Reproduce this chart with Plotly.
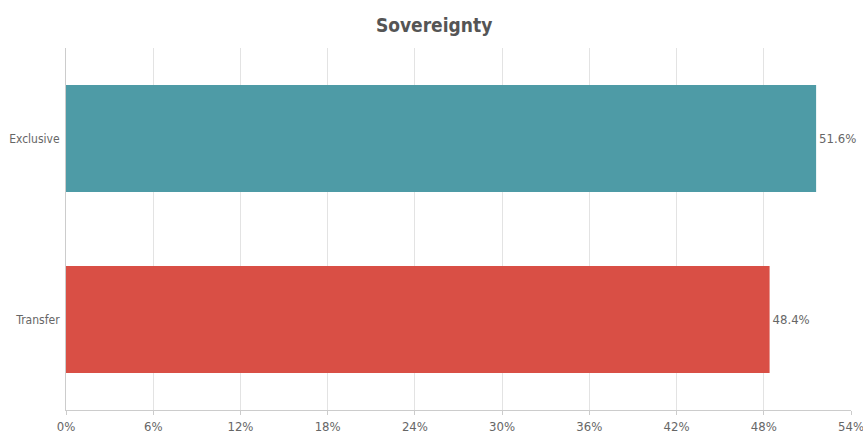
import plotly.graph_objects as go

categories = ["Exclusive", "Transfer"]
values = [51.6, 48.4]
colors = ["#4E9BA6", "#D94F45"]
tick_vals = [0, 6, 12, 18, 24, 30, 36, 42, 48, 54]
tick_text = [f"{v}%" for v in tick_vals]
labels = [f"{v}%" for v in values]

font_family = "DejaVu Sans Condensed, Liberation Sans Narrow, sans-serif"

fig = go.Figure(go.Bar(
    y=categories, x=values, orientation="h",
    marker=dict(color=colors, line=dict(width=0)),
    text=labels, textposition="outside", cliponaxis=False,
    textfont=dict(color="#666666", size=13, family=font_family),
))

fig.update_layout(
    width=863, height=436,
    margin=dict(l=66, r=12, t=48, b=26),
    paper_bgcolor="white", plot_bgcolor="white",
    bargap=0.41,
    showlegend=False,
    title=dict(text="<b>Sovereignty</b>", x=0.503, xref="container", xanchor="center",
               y=0.943, yanchor="middle",
               font=dict(size=19, color="#555555", family=font_family)),
    xaxis=dict(range=[0, 54], tickvals=tick_vals, ticktext=tick_text,
               showgrid=True, gridcolor="#E3E3E3", gridwidth=1,
               showline=True, linecolor="#CCCCCC", linewidth=1,
               ticks="outside", ticklen=4, tickcolor="#CCCCCC",
               ticklabeloverflow="allow",
               tickfont=dict(size=13, color="#666666", family=font_family),
               zeroline=False, fixedrange=True, automargin=False),
    yaxis=dict(categoryorder="array", categoryarray=categories[::-1],
               showgrid=False, showline=True, linecolor="#CCCCCC", linewidth=1,
               ticks="", ticklabelstandoff=3,
               tickfont=dict(size=12, color="#666666", family=font_family),
               fixedrange=True, automargin=False),
)

fig.write_html("out.html")
